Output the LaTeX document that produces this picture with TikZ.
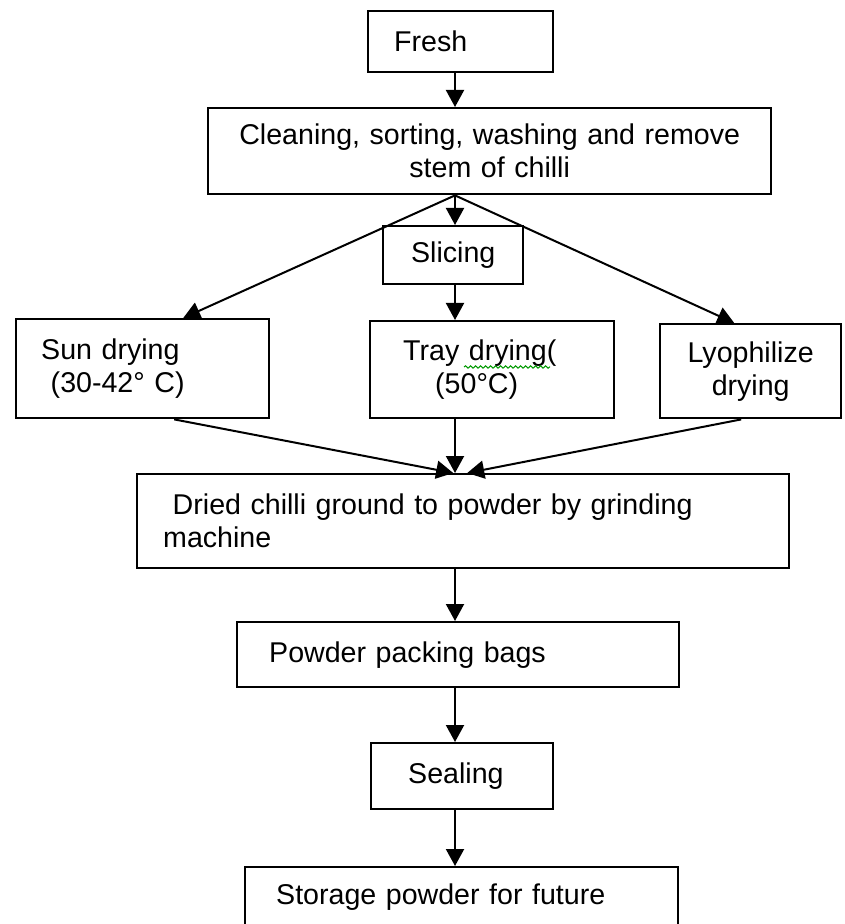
\documentclass[tikz,border=0pt]{standalone}
\usepackage{fontspec}
\setmainfont{Liberation Sans}
\usepackage{tikz}
\usetikzlibrary{positioning,arrows.meta,decorations.pathmorphing}
\newcommand\px{0.5pt}
\tikzset{box/.style={rectangle,draw=black,line width=1.2pt,anchor=north west,inner ysep=0pt,align=left,font=\fontsize{14.3}{16.5}\selectfont}}
\tikzset{flow/.style={draw=black,line width=1pt,-{Triangle[length=8.5pt,width=9pt]}}}

\begin{document}
\begin{tikzpicture}[x=\px,y=-\px]
                \useasboundingbox (0,0) rectangle (844,924);
                \coordinate (spine) at (455,0);

                % boxes, top to bottom
                \node[box,text width=66.5pt,inner xsep=13pt,minimum height=30.5pt] (fresh) at (367,10) {Fresh};
                \node[box,align=center,text width=261.5pt,inner xsep=10pt,minimum height=43pt] (clean) at (207,107) {Cleaning, sorting, washing and remove\\stem of chilli};
                \node[box,align=center,text width=60pt,inner xsep=5pt,minimum height=29pt] (slicing) at (382,225) {Slicing};

                \node[box,text width=101.5pt,inner xsep=12.5pt,minimum height=49.5pt] (sun) at (15,318) {Sun drying\\~(30-42° C)};
                \node[box,text width=89pt,inner xsep=16.5pt,minimum height=48.5pt] (tray) at (369,320) {Tray drying(\\\hspace*{16pt}(50°C)};
                \node[box,align=center,text width=80.5pt,inner xsep=5pt,minimum height=47pt] (lyo) at (659,323) {Lyophilize\\drying};
                \draw[green!60!black,line width=0.5pt,decorate,decoration={snake,amplitude=0.6pt,segment length=2.5pt}] (464,367) -- (550,367);

                \node[box,text width=300pt,inner xsep=13pt,minimum height=47pt] (dried) at (136,473) {~Dried chilli ground to powder by grinding\\machine};
                \node[box,text width=189pt,inner xsep=16pt,minimum height=32.5pt] (packing) at (236,621) {Powder packing bags};
                \node[box,text width=54pt,inner xsep=18.5pt,minimum height=33pt] (sealing) at (370,742) {Sealing};
                \node[box,text width=185.5pt,inner xsep=15.5pt,minimum height=30pt] (storage) at (244,866) {Storage powder for future};

                % connectors
                \draw[flow] (spine |- fresh.south) -- (spine |- clean.north);
                \draw[flow] (spine |- clean.south) -- (spine |- slicing.north);
                \draw[flow] (spine |- clean.south) -- ([xshift=20.25pt]sun.north);
                \draw[flow] (spine |- clean.south) -- ([xshift=-8.25pt]lyo.north);
                \draw[flow] (spine |- slicing.south) -- (spine |- tray.north);

                \draw[flow] ([xshift=15.75pt]sun.south) -- ([xshift=-5pt]dried.north);
                \draw[flow] (spine |- tray.south) -- (spine |- dried.north);
                \draw[flow] ([xshift=-4.75pt]lyo.south) -- ([xshift=2pt]dried.north);

                \draw[flow] (spine |- dried.south) -- (spine |- packing.north);
                \draw[flow] (spine |- packing.south) -- (spine |- sealing.north);
                \draw[flow] (spine |- sealing.south) -- (spine |- storage.north);
            \end{tikzpicture}
\end{document}
